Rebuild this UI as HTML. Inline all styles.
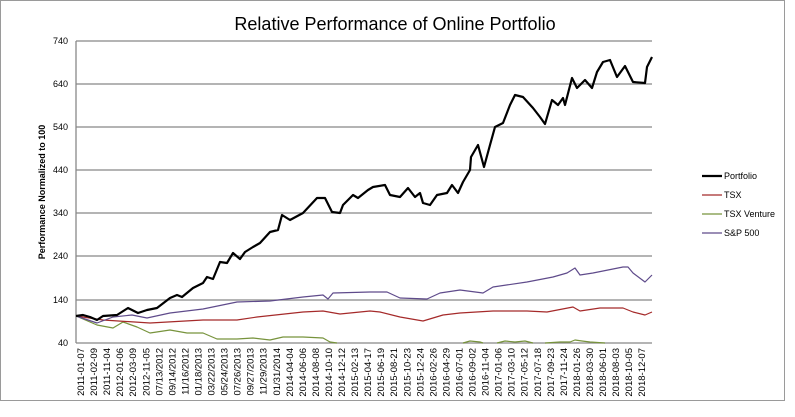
<!DOCTYPE html>
<html><head><meta charset="utf-8"><style>
body{margin:0;background:#fff}
svg text{font-family:"Liberation Sans",sans-serif}
</style></head><body>
<svg width="795" height="412" viewBox="0 0 795 412" xmlns="http://www.w3.org/2000/svg">
<rect x="0.5" y="0.5" width="784" height="400" fill="#fff" stroke="#9a9a9a"/>
<text x="395" y="30" font-size="18" text-anchor="middle" fill="#000">Relative Performance of Online Portfolio</text>
<g stroke="#888" stroke-width="1.3">
<line x1="76" y1="41" x2="652" y2="41"/><line x1="76" y1="84" x2="652" y2="84"/>
<line x1="76" y1="127" x2="652" y2="127"/><line x1="76" y1="170" x2="652" y2="170"/>
<line x1="76" y1="213" x2="652" y2="213"/><line x1="76" y1="256" x2="652" y2="256"/>
<line x1="76" y1="300" x2="652" y2="300"/><line x1="76" y1="343" x2="652" y2="343"/>
<line x1="76" y1="41" x2="76" y2="343"/>
</g>
<g font-size="9" text-anchor="end" fill="#000">
<text x="68" y="44">740</text><text x="68" y="87">640</text><text x="68" y="130">540</text>
<text x="68" y="173">440</text><text x="68" y="216">340</text><text x="68" y="259">240</text>
<text x="68" y="303">140</text><text x="68" y="346">40</text>
</g>
<text transform="translate(45,192) rotate(-90)" font-size="9" font-weight="bold" text-anchor="middle">Performance Normalized to 100</text>
<g fill="none" stroke-linejoin="round">
<polyline stroke="#77933c" stroke-width="1.2" points="76,316 97,325 113,328 123,322 137,327 150,333 170,330 187,333 203,333 217,339 237,339 253,338 270,340 283,337 303,337 323,338 330,342 337,343"/>
<polyline stroke="#77933c" stroke-width="1.2" points="463,343 470,341 480,342 483,343"/>
<polyline stroke="#77933c" stroke-width="1.2" points="497,343 505,341 515,342 525,341 533,343"/>
<polyline stroke="#77933c" stroke-width="1.2" points="545,343 560,342 570,342 575,340 582,341 590,342 605,343"/>
<polyline stroke="#a52a2a" stroke-width="1.2" points="76,316 103,320 150,323 203,320 237,320 257,317 303,312 323,311 340,314 370,311 380,312 400,317 423,321 443,315 460,313 493,311 527,311 547,312 573,307 580,311 600,308 623,308 633,312 645,315 652,312"/>
<polyline stroke="#5f4b8b" stroke-width="1.2" points="76,316 97,323 113,317 132,315 147,318 170,313 203,309 237,302 270,301 303,297 323,295 328,299 333,293 370,292 387,292 400,298 427,299 440,293 460,290 483,293 493,287 527,282 553,277 567,273 575,268 580,275 593,273 623,267 628,267 633,273 645,282 652,275"/>
<polyline stroke="#000" stroke-width="2.2" points="76,316 83,315 90,317 97,320 103,316 117,315 128,308 138,313 147,310 157,308 170,298 177,295 182,297 193,288 203,283 207,277 213,279 220,262 227,263 233,253 240,259 245,252 253,247 260,243 270,232 278,230 282,215 290,220 303,213 317,198 325,198 332,212 340,213 343,205 353,195 358,198 368,190 373,187 385,185 390,195 400,197 408,188 415,197 420,193 423,203 430,205 437,195 447,193 452,185 458,193 463,182 470,170 471,157 478,145 484,167 490,145 495,127 503,123 510,105 515,95 523,97 533,108 540,117 545,124 552,100 558,105 563,98 565,105 572,78 577,88 585,80 592,88 597,72 603,62 610,60 617,77 625,66 633,82 645,83 647,67 652,57"/>
</g>
<g font-size="9">
<line x1="702" y1="176" x2="722" y2="176" stroke="#000" stroke-width="2.2"/><text x="724" y="179">Portfolio</text>
<line x1="702" y1="195" x2="722" y2="195" stroke="#a52a2a" stroke-width="1.2"/><text x="724" y="198">TSX</text>
<line x1="702" y1="214" x2="722" y2="214" stroke="#77933c" stroke-width="1.2"/><text x="724" y="217">TSX Venture</text>
<line x1="702" y1="233" x2="722" y2="233" stroke="#5f4b8b" stroke-width="1.2"/><text x="724" y="236">S&amp;P 500</text>
</g>
<g font-size="9.5" text-anchor="end">
<text transform="translate(84.0,348) rotate(-90)">2011-01-07</text>
<text transform="translate(97.1,348) rotate(-90)">2011-02-09</text>
<text transform="translate(110.1,348) rotate(-90)">2011-11-04</text>
<text transform="translate(123.2,348) rotate(-90)">2012-01-06</text>
<text transform="translate(136.2,348) rotate(-90)">2012-03-09</text>
<text transform="translate(149.3,348) rotate(-90)">2012-11-05</text>
<text transform="translate(162.3,348) rotate(-90)">07/13/2012</text>
<text transform="translate(175.4,348) rotate(-90)">09/14/2012</text>
<text transform="translate(188.4,348) rotate(-90)">11/16/2012</text>
<text transform="translate(201.5,348) rotate(-90)">01/18/2013</text>
<text transform="translate(214.5,348) rotate(-90)">03/22/2013</text>
<text transform="translate(227.6,348) rotate(-90)">05/24/2013</text>
<text transform="translate(240.6,348) rotate(-90)">07/26/2013</text>
<text transform="translate(253.7,348) rotate(-90)">09/27/2013</text>
<text transform="translate(266.7,348) rotate(-90)">11/29/2013</text>
<text transform="translate(279.8,348) rotate(-90)">01/31/2014</text>
<text transform="translate(292.8,348) rotate(-90)">2014-04-04</text>
<text transform="translate(305.9,348) rotate(-90)">2014-06-06</text>
<text transform="translate(318.9,348) rotate(-90)">2014-08-08</text>
<text transform="translate(332.0,348) rotate(-90)">2014-10-10</text>
<text transform="translate(345.0,348) rotate(-90)">2014-12-12</text>
<text transform="translate(358.1,348) rotate(-90)">2015-02-13</text>
<text transform="translate(371.1,348) rotate(-90)">2015-04-17</text>
<text transform="translate(384.2,348) rotate(-90)">2015-06-19</text>
<text transform="translate(397.2,348) rotate(-90)">2015-08-21</text>
<text transform="translate(410.3,348) rotate(-90)">2015-10-23</text>
<text transform="translate(423.3,348) rotate(-90)">2015-12-24</text>
<text transform="translate(436.4,348) rotate(-90)">2016-02-26</text>
<text transform="translate(449.4,348) rotate(-90)">2016-04-29</text>
<text transform="translate(462.5,348) rotate(-90)">2016-07-01</text>
<text transform="translate(475.5,348) rotate(-90)">2016-09-02</text>
<text transform="translate(488.6,348) rotate(-90)">2016-11-04</text>
<text transform="translate(501.6,348) rotate(-90)">2017-01-06</text>
<text transform="translate(514.7,348) rotate(-90)">2017-03-10</text>
<text transform="translate(527.7,348) rotate(-90)">2017-05-12</text>
<text transform="translate(540.8,348) rotate(-90)">2017-07-18</text>
<text transform="translate(553.8,348) rotate(-90)">2017-09-23</text>
<text transform="translate(566.9,348) rotate(-90)">2017-11-24</text>
<text transform="translate(579.9,348) rotate(-90)">2018-01-26</text>
<text transform="translate(593.0,348) rotate(-90)">2018-03-30</text>
<text transform="translate(606.0,348) rotate(-90)">2018-06-01</text>
<text transform="translate(619.1,348) rotate(-90)">2018-08-03</text>
<text transform="translate(632.1,348) rotate(-90)">2018-10-05</text>
<text transform="translate(645.2,348) rotate(-90)">2018-12-07</text>
</g>
</svg>
</body></html>
